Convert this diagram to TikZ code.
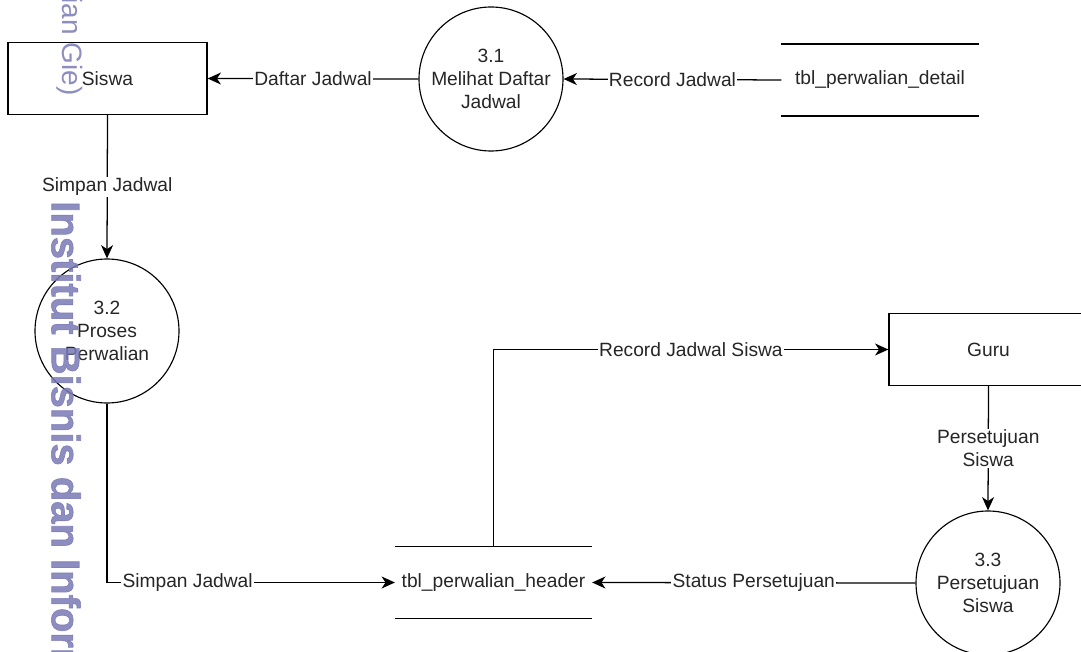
\documentclass[tikz,border=0pt]{standalone}
\usepackage{fontspec}
\setmainfont{Liberation Sans}
\newfontfamily\wmbold{Liberation Sans}[BoldFeatures={FakeBold=1.6}]
\usetikzlibrary{arrows.meta}
\definecolor{txt}{RGB}{38,38,38}
\definecolor{wm}{RGB}{122,122,182}
\begin{document}
\begin{tikzpicture}[x=0.75pt,y=-0.75pt,
  font=\fontsize{14.4}{17}\selectfont,
  entity/.style={draw, line width=0.95pt, minimum width=149.25pt, minimum height=54pt, inner sep=0pt, text=txt},
  proc/.style={draw, circle, line width=0.85pt, minimum size=108pt, inner sep=0pt, align=center, text=txt},
  store/.style={minimum width=147.5pt, minimum height=53.5pt, inner sep=0pt, text=txt},
  storeline/.style={line width=0.95pt},
  flow/.style={line width=0.95pt, -{Stealth[length=10pt,width=9pt,inset=3pt]}},
  lbl/.style={fill=white, inner sep=1pt, text=txt, align=center},
  wmark/.style={text=wm, opacity=0.85, inner sep=0pt},
]
\useasboundingbox (0,0) rectangle (1081,652);
\clip (0,0) rectangle (1081,652);
\fill[white] (0,0) rectangle (1081,652);

% nodes
\node[entity] (siswa) at (107.5,78.5) {Siswa};
\node[entity] (guru) at (988.5,349.5) {Guru};
\node[proc] (p31) at (491,79) {3.1\\Melihat Daftar\\Jadwal};
\node[proc] (p32) at (107,331) {3.2\\Proses\\Perwalian};
\node[proc] (p33) at (988,583) {3.3\\Persetujuan\\Siswa};
\node[store] (s1) at (880,80) {tbl\_perwalian\_detail};
\node[store] (s2) at (493.5,582.5) {tbl\_perwalian\_header};

% data store lines
\draw[storeline] (s1.north west) -- (s1.north east);
\draw[storeline] (s1.south west) -- (s1.south east);
\draw[storeline] (s2.north west) -- (s2.north east);
\draw[storeline] (s2.south west) -- (s2.south east);

% flows
\draw[flow] (p31.west) -- node[lbl] {Daftar Jadwal} (siswa.east);
\draw[flow] (s1.west) -- node[lbl] {Record Jadwal} (p31.east);
\draw[flow] (siswa.south) -- node[lbl] {Simpan Jadwal} (p32.north);
\draw[flow] (p32.south) |- node[lbl, pos=0.64] {Simpan Jadwal} (s2.west);
\draw[flow] (s2.north) |- node[lbl, pos=0.75] {Record Jadwal Siswa} (guru.west);
\draw[flow] (guru.south) -- node[lbl] {Persetujuan\\Siswa} (p33.north);
\draw[flow] (p33.west) -- node[lbl] {Status Persetujuan} (s2.east);

% watermark
\node[wmark, rotate=-90, anchor=east, font=\fontsize{21}{21}\selectfont] (wm1) at (70,96) {Kwik Kian Gie)};
\node[wmark, rotate=-90, anchor=west, font=\wmbold\bfseries\fontsize{30}{30}\selectfont] (wm2) at (66,201) {Institut Bisnis dan Informatika Kwik Kian Gie};
\end{tikzpicture}
\end{document}
